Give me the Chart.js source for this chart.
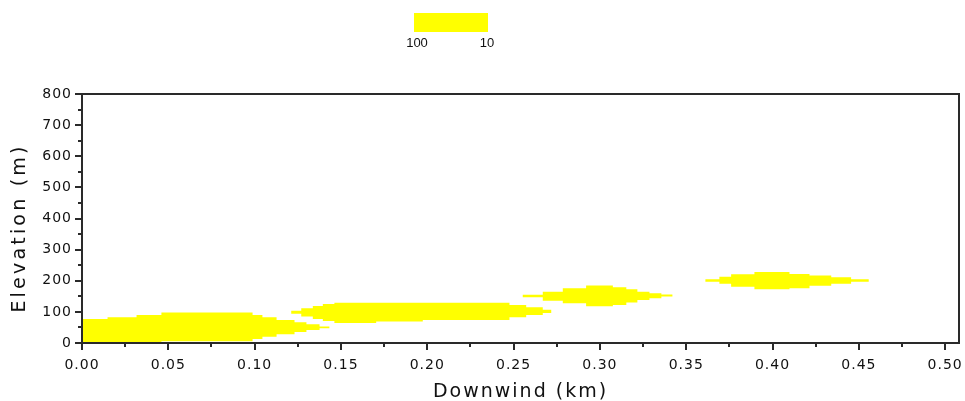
<!DOCTYPE html>
<html lang="en">
<head>
  <meta charset="UTF-8" />
  <title>Plume Elevation vs Downwind Distance</title>
  <script src="https://cdn.jsdelivr.net/npm/chart.js"></script>
  <style>
    html, body { margin: 0; padding: 0; background: #fff; }
    #wrap { position: relative; width: 965px; height: 401px; }
  </style>
</head>
<body>
  <div id="wrap"><canvas id="plumeChart"></canvas></div>

  <script>
    // plume outlines: step edges (km) with top / bottom elevation (m) of each step
    const plume1X = [0, 0.0148, 0.0316, 0.046, 0.0988, 0.1045, 0.1127, 0.1231, 0.130, 0.1376, 0.1433];
    const plume1Top = [77, 83, 90, 98, 90, 83, 74, 67, 60, 53];
    const plume1Bottom = [0, 0, 0, 6, 13, 20, 28, 35, 42, 47];

    const plume2X = [0.1212, 0.127, 0.1337, 0.1395, 0.1462, 0.1704, 0.1974, 0.2476, 0.2573, 0.2669, 0.2718];
    const plume2Top = [104, 112, 119, 125, 129, 129, 129, 122, 115, 107];
    const plume2Bottom = [94, 85, 77, 71, 64, 69, 74, 83, 90, 96];

    const plume3X = [0.2553, 0.2669, 0.2785, 0.292, 0.3075, 0.3153, 0.3217, 0.3287, 0.3356, 0.342];
    const plume3Top = [155, 165, 176, 185, 179, 173, 165, 160, 156];
    const plume3Bottom = [147, 136, 128, 118, 122, 130, 138, 144, 149];

    const plume4X = [0.3611, 0.3692, 0.376, 0.3895, 0.4098, 0.4214, 0.434, 0.4455, 0.4557];
    const plume4Top = [205, 213, 221, 228, 222, 217, 211, 205];
    const plume4Bottom = [197, 190, 181, 173, 176, 184, 190, 197];

    const xTickValues = [0, 0.05, 0.10, 0.15, 0.20, 0.25, 0.30, 0.35, 0.40, 0.45, 0.50];
    const xTickLabels = ['0.00', '0.05', '0.10', '0.15', '0.20', '0.25', '0.30', '0.35', '0.40', '0.45', '0.50'];
    const yTickValues = [0, 100, 200, 300, 400, 500, 600, 700, 800];
    const yTickLabels = ['0', '100', '200', '300', '400', '500', '600', '700', '800'];

    const legendLabels = ['100', '10'];
    const plumeColor = '#ffff00';

    // turn a stepped outline into a closed polygon (stepped line draws horizontal first)
    function outline(xs, tops, bottoms) {
      const n = tops.length;
      const pts = [{ x: xs[0], y: tops[0] }];
      for (let i = 1; i < n; i++) pts.push({ x: xs[i], y: tops[i] });
      pts.push({ x: xs[n], y: bottoms[n - 1] });
      for (let i = n - 1; i >= 1; i--) pts.push({ x: xs[i], y: bottoms[i - 1] });
      pts.push({ x: xs[0], y: bottoms[0] });
      pts.push({ x: xs[0], y: tops[0] });
      return pts;
    }

    function plumeSet(pts) {
      return {
        data: pts,
        showLine: true,
        stepped: true,
        fill: 'shape',
        backgroundColor: plumeColor,
        borderColor: plumeColor,
        borderWidth: 0,
        pointRadius: 0
      };
    }

    const ink = '#111';
    const frameColor = '#2a2a2a';

    const plumeDecor = {
      id: 'plumeDecor',
      beforeDraw(chart) {
        chart.ctx.letterSpacing = '1px';
      },
      afterDraw(chart) {
        const { ctx, chartArea: a, scales } = chart;
        ctx.save();

        // frame round the plot
        ctx.strokeStyle = frameColor;
        ctx.lineWidth = 2;
        ctx.strokeRect(a.left, a.top, a.right - a.left, a.bottom - a.top);

        // minor ticks half way between the labelled ones
        ctx.beginPath();
        for (let i = 0; i < xTickValues.length - 1; i++) {
          const px = Math.round(scales.x.getPixelForValue((xTickValues[i] + xTickValues[i + 1]) / 2));
          ctx.moveTo(px, a.bottom);
          ctx.lineTo(px, a.bottom + 4);
        }
        for (let i = 0; i < yTickValues.length - 1; i++) {
          const py = Math.round(scales.y.getPixelForValue((yTickValues[i] + yTickValues[i + 1]) / 2));
          ctx.moveTo(a.left - 4, py);
          ctx.lineTo(a.left, py);
        }
        ctx.stroke();

        // axis titles
        ctx.fillStyle = ink;
        ctx.font = '19px "DejaVu Sans"';
        ctx.textAlign = 'center';
        ctx.textBaseline = 'alphabetic';
        ctx.letterSpacing = '2px';
        ctx.fillText('Downwind (km)', (a.left + a.right) / 2, 397);

        ctx.save();
        ctx.translate(25, 228);
        ctx.rotate(-Math.PI / 2);
        ctx.letterSpacing = '3.2px';
        ctx.fillText('Elevation (m)', 0, 0);
        ctx.restore();

        // colour bar
        ctx.fillStyle = plumeColor;
        ctx.fillRect(414, 13, 74, 19);
        ctx.fillStyle = ink;
        ctx.font = '13px "Liberation Sans"';
        ctx.letterSpacing = '0px';
        ctx.textBaseline = 'middle';
        ctx.fillText(legendLabels[0], 417, 43);
        ctx.fillText(legendLabels[1], 487, 43);

        ctx.restore();
      }
    };

    const tickFont = { family: 'DejaVu Sans', size: 14 };

    new Chart(document.getElementById('plumeChart'), {
      type: 'scatter',
      data: {
        datasets: [
          plumeSet(outline(plume1X, plume1Top, plume1Bottom)),
          plumeSet(outline(plume2X, plume2Top, plume2Bottom)),
          plumeSet(outline(plume3X, plume3Top, plume3Bottom)),
          plumeSet(outline(plume4X, plume4Top, plume4Bottom))
        ]
      },
      options: {
        responsive: true,
        maintainAspectRatio: false,
        animation: false,
        devicePixelRatio: 1,
        layout: { padding: { top: 94, right: 6, left: 0, bottom: 0 } },
        plugins: {
          legend: { display: false },
          tooltip: { enabled: false }
        },
        scales: {
          x: {
            type: 'linear',
            min: 0,
            max: 0.508,
            afterBuildTicks: s => { s.ticks = xTickValues.map(v => ({ value: v })); },
            afterFit: s => { s.height = 58; s.paddingLeft = 0; s.paddingRight = 0; },
            ticks: {
              callback: (v, i) => xTickLabels[i],
              font: tickFont,
              color: ink,
              maxRotation: 0,
              autoSkip: false,
              padding: 7
            },
            grid: { drawOnChartArea: false, tickLength: 7, color: frameColor, lineWidth: 2 },
            border: { display: false }
          },
          y: {
            type: 'linear',
            min: 0,
            max: 800,
            afterBuildTicks: s => { s.ticks = yTickValues.map(v => ({ value: v })); },
            afterFit: s => { s.width = 82; s.paddingTop = 0; s.paddingBottom = 0; },
            ticks: {
              callback: (v, i) => yTickLabels[i],
              font: tickFont,
              color: ink,
              autoSkip: false,
              padding: 3
            },
            grid: { drawOnChartArea: false, tickLength: 7, color: frameColor, lineWidth: 2 },
            border: { display: false }
          }
        }
      },
      plugins: [plumeDecor]
    });
  </script>
</body>
</html>
